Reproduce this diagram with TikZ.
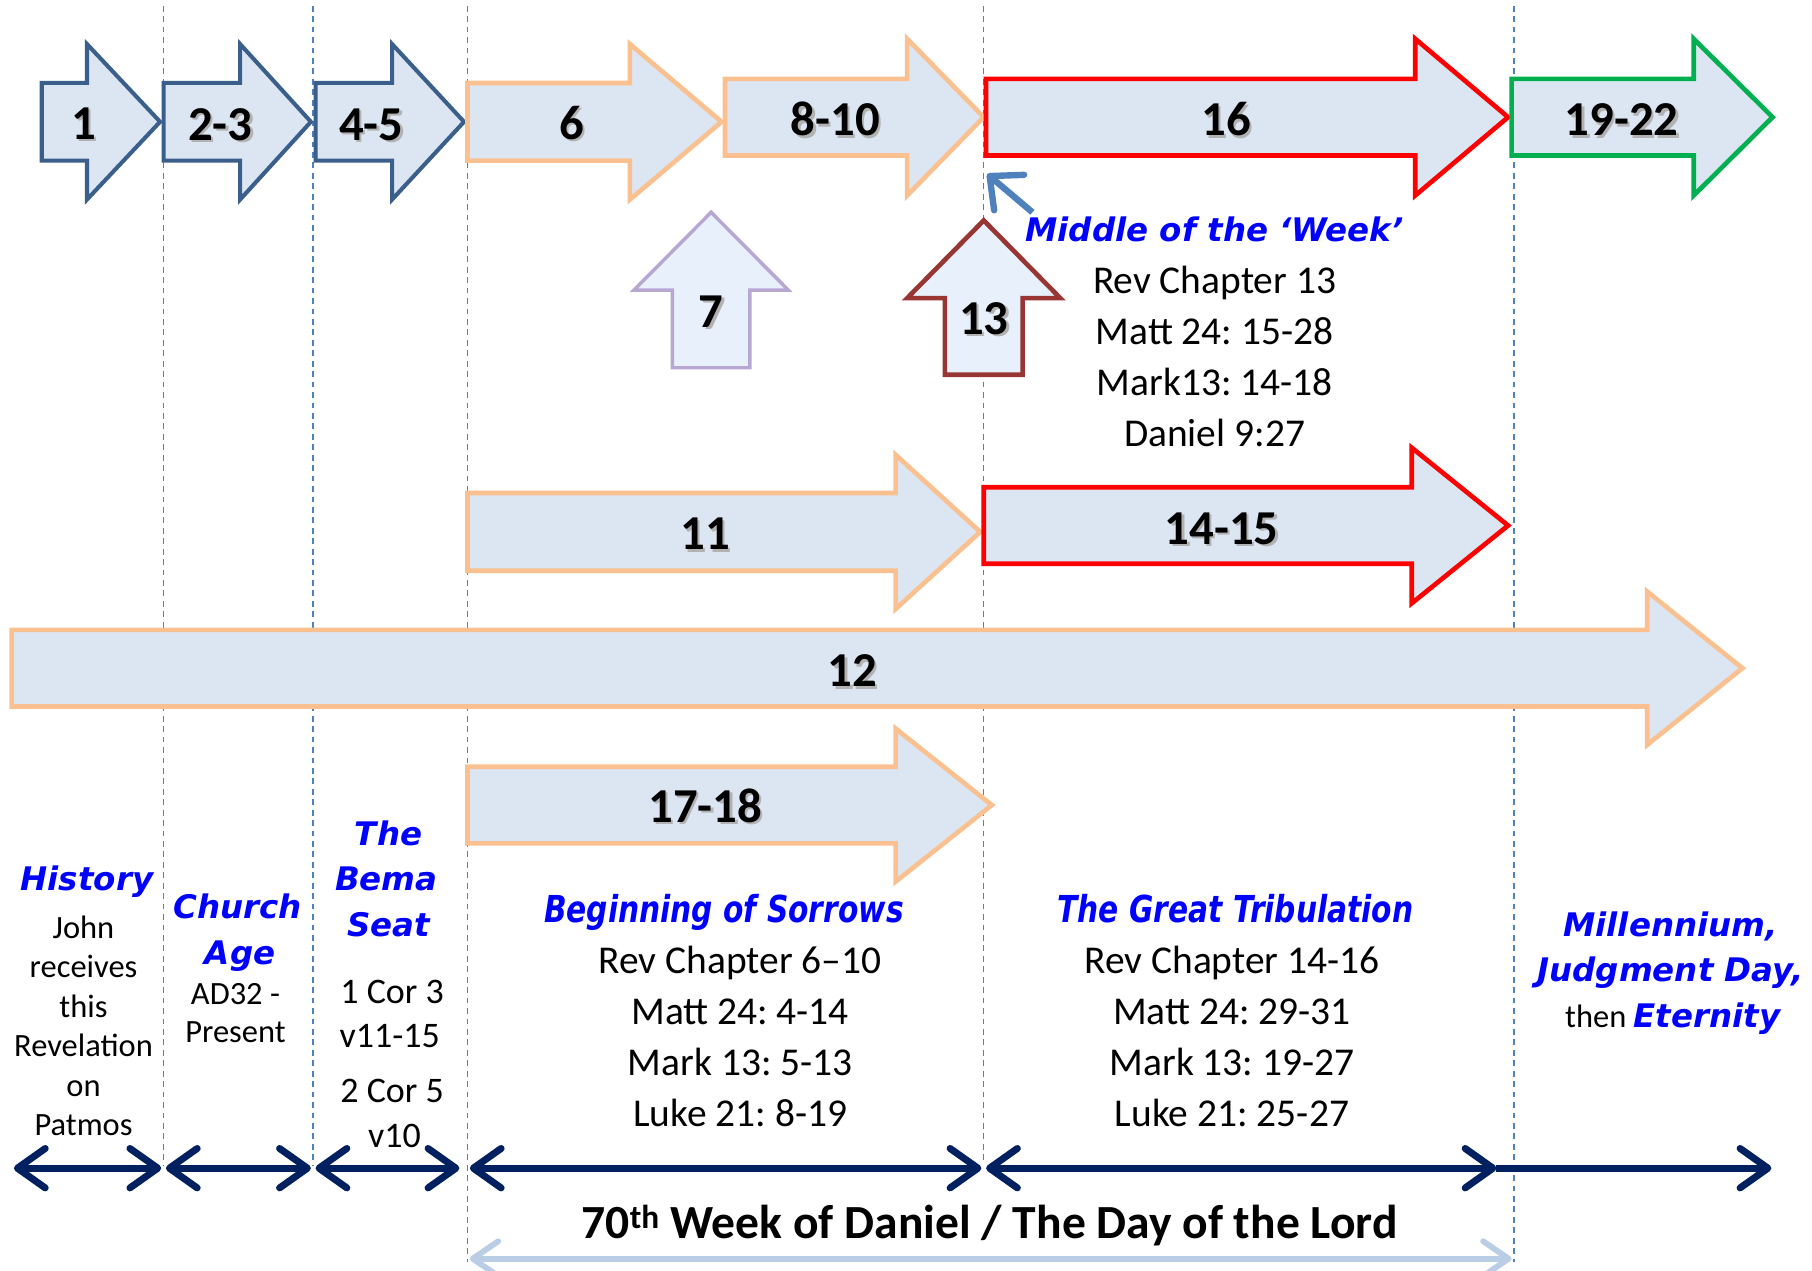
\documentclass[tikz,border=0pt]{standalone}
\usepackage{fontspec}
\setmainfont{Carlito}
\newfontfamily\headfont{DejaVu Sans}
\newfontfamily\condfont{DejaVu Sans}[FakeStretch=0.8]
\usetikzlibrary{arrows.meta}
\frenchspacing

\definecolor{boxfill}{HTML}{DCE6F2}
\definecolor{upfill}{HTML}{E8F1FB}
\definecolor{slateedge}{HTML}{3A5F8B}
\definecolor{peach}{HTML}{FAC08F}
\definecolor{lilac}{HTML}{B8A6D3}
\definecolor{maroon}{HTML}{983634}
\definecolor{leaf}{HTML}{00B050}
\definecolor{guide}{HTML}{4F81BD}
\definecolor{navy}{HTML}{002060}
\definecolor{paleblue}{HTML}{B9CDE5}
\definecolor{headblue}{HTML}{0000FF}

% right arrow: style, left, head base, tip, centre y, body half, head half
\newcommand\rightblock[7]{%
  \draw[#1] (#2,#5-#6) -- (#3,#5-#6) -- (#3,#5-#7) -- (#4,#5)
    -- (#3,#5+#7) -- (#3,#5+#6) -- (#2,#5+#6) -- cycle;}
% up arrow: style, centre x, tip, head base, bottom, shaft half, head half
\newcommand\upblock[7]{%
  \draw[#1] (#2,#3) -- (#2+#7,#4) -- (#2+#6,#4) -- (#2+#6,#5)
    -- (#2-#6,#5) -- (#2-#6,#4) -- (#2-#7,#4) -- cycle;}
% number with a soft shadow
\newcommand\shnum[1]{\makebox[0pt][l]{\kern2pt\raisebox{-2pt}{\textcolor{black!30}{#1}}}#1}

\tikzset{
  guideline/.style={draw=guide, line width=1.3pt, dash pattern=on 5pt off 4pt},
  slatearrow/.style={draw=slateedge, fill=boxfill, line width=3.5pt},
  peacharrow/.style={draw=peach, fill=boxfill, line width=4pt},
  redarrow/.style={draw=red, fill=boxfill, line width=4pt},
  leafarrow/.style={draw=leaf, fill=boxfill, line width=4pt},
  num/.style={font=\fontsize{42}{42}\selectfont\bfseries, anchor=base, inner sep=0pt},
  head/.style={text=headblue, font=\headfont\fontsize{28}{28}\selectfont\bfseries\itshape, anchor=base, inner sep=0pt},
  condhead/.style={text=headblue, font=\condfont\fontsize{32}{32}\selectfont\bfseries\itshape, anchor=base, inner sep=0pt},
  ref/.style={font=\fontsize{34}{34}\selectfont, anchor=base, inner sep=0pt},
  small/.style={font=\fontsize{28}{28}\selectfont, anchor=base, inner sep=0pt},
  cor/.style={font=\fontsize{31}{31}\selectfont, anchor=base, inner sep=0pt},
  span/.style={draw=navy, line width=6pt,
    {Straight Barb[length=24pt,width=34pt,round]}-{Straight Barb[length=24pt,width=34pt,round]}},
  lastspan/.style={draw=navy, line width=6pt, -{Straight Barb[length=24pt,width=34pt,round]}},
  weekspan/.style={draw=paleblue, line width=5pt,
    {Straight Barb[length=22pt,width=30pt,round]}-{Straight Barb[length=22pt,width=30pt,round]}},
  pointer/.style={draw=guide, line width=5.5pt, -{Straight Barb[length=22pt,width=40pt,round]}},
}

\begin{document}
\begin{tikzpicture}[x=1pt,y=-1pt]
\useasboundingbox (0,0) rectangle (1562,1095);

% dashed dividers
\foreach \x/\yb in {141/1005, 270/1005, 403/1088, 848/1000, 1305/1088}
  \draw[guideline] (\x,5) -- (\x,\yb);

% top row
\rightblock{slatearrow}{36}{75}{138}{105}{33.5}{67}
\rightblock{slatearrow}{141}{207}{268}{105}{33.5}{67}
\rightblock{slatearrow}{272}{338}{400}{105}{33.5}{67}
\rightblock{peacharrow}{403}{543}{622}{105}{33.5}{67}
\rightblock{peacharrow}{625}{782}{848}{101}{33}{67.5}
\rightblock{redarrow}{850}{1220}{1300}{101}{33}{67.5}
\rightblock{leafarrow}{1303}{1460}{1528}{101}{33}{67.5}

% up arrows
\upblock{draw=lilac, fill=upfill, line width=3pt}{613}{183}{250}{317}{33.5}{66.5}
\upblock{draw=maroon, fill=upfill, line width=4pt}{848}{190}{257}{323}{33.5}{66}

% lower rows
\rightblock{peacharrow}{403}{772}{845}{458.5}{33.5}{66.5}
\rightblock{redarrow}{848}{1217}{1300}{453}{33}{67}
\rightblock{peacharrow}{10}{1420}{1502}{576}{33}{66}
\rightblock{peacharrow}{403}{772}{855}{694}{33}{66}

% chapter numbers
\node[num] (n1) at (72,120) {\shnum{1}};
\node[num] (n23) at (190,121) {\shnum{2-3}};
\node[num] (n45) at (320,121) {\shnum{4-5}};
\node[num] (n6) at (493,120) {\shnum{6}};
\node[num] (n810) at (720,117) {\shnum{8-10}};
\node[num] (n16) at (1057,117) {\shnum{16}};
\node[num] (n1922) at (1398,117) {\shnum{19-22}};
\node[num] (n7) at (613,282) {\shnum{7}};
\node[num] (n13) at (848,288) {\shnum{13}};
\node[num] (n11) at (608,474) {\shnum{11}};
\node[num] (n1415) at (1053,469) {\shnum{14-15}};
\node[num] (n12) at (735,592) {\shnum{12}};
\node[num] (n1718) at (608,709) {\shnum{17-18}};

% middle of the week
\coordinate (pt0) at (890,183);
\coordinate (pt1) at (851,150);
\draw[pointer] (pt0) -- (pt1);
\node[head] (mid) at (1047,208) {Middle of the ‘Week’};
\foreach \t [count=\i] in {Rev Chapter 13, Matt 24: 15-28, Mark13: 14-18, Daniel 9:27}
  \node[ref] (mid\i) at (1047,209+44*\i) {\t};

% history
\node[head] (hist) at (75,768) {History};
\foreach \t [count=\i] in {John, receives, this, Revelation, on, Patmos}
  \node[small] (hist\i) at (72,775+34*\i) {\t};

% church age
\node[head] (church) at (205,792) {Church};
\node[head] (age) at (207,831) {Age};
\node[small] (ad) at (203,866) {AD32 -};
\node[small] (present) at (203,899) {Present};

% bema seat
\node[head] (the) at (335,729) {The};
\node[head] (bema) at (333,768) {Bema};
\node[head] (seat) at (335,807) {Seat};
\node[cor] (cor1) at (338,865) {1 Cor 3};
\node[cor] (cor2) at (336,903) {v11-15};
\node[cor] (cor3) at (338,950) {2 Cor 5};
\node[cor] (cor4) at (340,989) {v10};

% beginning of sorrows
\node[condhead] (bos) at (624,795) {Beginning of Sorrows};
\foreach \t [count=\i] in {Rev Chapter 6–10, Matt 24: 4-14, Mark 13: 5-13, Luke 21: 8-19}
  \node[ref] (bos\i) at (638,795+44*\i) {\t};

% great tribulation
\node[condhead] (gt) at (1065,795) {The Great Tribulation};
\foreach \t [count=\i] in {Rev Chapter 14-16, Matt 24: 29-31, Mark 13: 19-27, Luke 21: 25-27}
  \node[ref] (gt\i) at (1062,795+44*\i) {\t};

% millennium
\node[head] (mill) at (1440,807) {Millennium,};
\node[head] (jd) at (1440,846) {Judgment Day,};
\node[small] (eter) at (1442,886) {then {\headfont\bfseries\itshape\color{headblue}Eternity}};

% time spans
\coordinate (s0) at (12,1007);
\coordinate (s1) at (139,1007);
\coordinate (s2) at (143,1007);
\coordinate (s3) at (268,1007);
\coordinate (s4) at (272,1007);
\coordinate (s5) at (396,1007);
\coordinate (s6) at (405,1007);
\coordinate (s7) at (846,1007);
\coordinate (s8) at (850,1007);
\coordinate (s9) at (1290,1007);
\coordinate (s10) at (1527,1007);
\draw[span] (s0) -- (s1);
\draw[span] (s2) -- (s3);
\draw[span] (s4) -- (s5);
\draw[span] (s6) -- (s7);
\draw[span] (s8) -- (s9);
\draw[lastspan] (s9) -- (s10);

\node[font=\fontsize{41}{41}\selectfont\bfseries, anchor=base, inner sep=0pt] (dan) at (853,1068)
  {70\textsuperscript{th} Week of Daniel / The Day of the Lord};
\coordinate (w0) at (405,1085);
\coordinate (w1) at (1303,1085);
\draw[weekspan] (w0) -- (w1);
\end{tikzpicture}
\end{document}
